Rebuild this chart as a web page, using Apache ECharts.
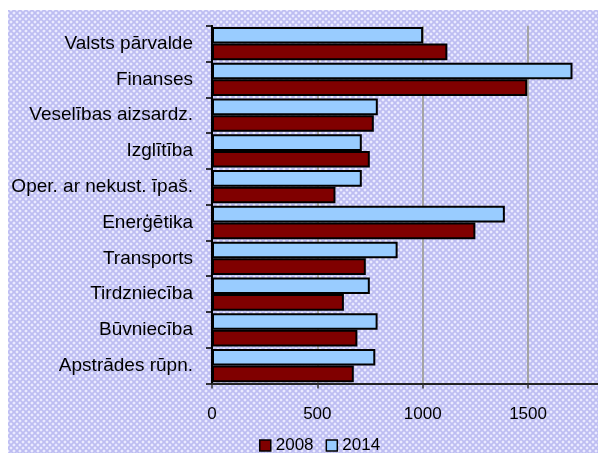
<!DOCTYPE html>
<html>
<head>
<meta charset="utf-8">
<script src="https://cdn.jsdelivr.net/npm/echarts/dist/echarts.min.js"></script>
<style>
  html, body { margin: 0; padding: 0; background: #fff; }
  #mydiv { width: 598px; height: 453px; }
</style>
</head>
<body>
<div id="mydiv"></div>
<script>
// nozares (no apakšas uz augšu, kā Excel joslu diagrammā)
var categories = ['Apstrādes rūpn.', 'Būvniecība', 'Tirdzniecība', 'Transports', 'Enerģētika',
    'Oper. ar nekust. īpaš.', 'Izglītība', 'Veselības aizsardz.', 'Finanses', 'Valsts pārvalde'];
var legendNames = ['2008', '2014'];
var values2008 = [673, 690, 626, 730, 1250, 586, 749, 768, 1496, 1117];
var values2014 = [775, 786, 749, 881, 1390, 711, 711, 787, 1711, 1002];
// ass nogriezta attēla labajā malā
var xMin = 0;
var xMax = 1832;
var xStep = 500;

// fona raksts (gaiši violets rombu raksts)
var pat = document.createElement('canvas');
pat.width = 6;
pat.height = 6;
var ctx = pat.getContext('2d');
ctx.fillStyle = '#ececff';
ctx.fillRect(0, 0, 6, 6);
ctx.strokeStyle = '#bdbdf2';
ctx.lineWidth = 1.8;
ctx.beginPath();
ctx.moveTo(0, 0); ctx.lineTo(6, 6);
ctx.moveTo(6, 0); ctx.lineTo(0, 6);
ctx.stroke();

var echart = echarts.init(document.getElementById('mydiv'));

var labelFont = 'Liberation Sans, Arial, sans-serif';

var option = {
    backgroundColor: '#ffffff',
    animation: false,
    graphic: [{
        type: 'rect',
        left: 8,
        top: 10,
        z: -10,
        shape: { width: 590, height: 443 },
        style: { fill: { image: pat, repeat: 'repeat' } },
        silent: true
    }],
    legend: {
        data: legendNames,
        left: 254,
        top: 432,
        itemWidth: 11,
        itemHeight: 11,
        itemGap: 12,
        icon: 'rect',
        itemStyle: { borderColor: '#000', borderWidth: 1.5 },
        textStyle: { fontSize: 17, color: '#000', fontFamily: labelFont }
    },
    grid: {
        left: 212,
        top: 25.7,
        bottom: 69.5,
        right: 0
    },
    xAxis: {
        type: 'value',
        min: xMin,
        max: xMax,
        interval: xStep,
        axisLine: { show: true, lineStyle: { color: '#222', width: 2 } },
        axisTick: { show: true, length: 5, lineStyle: { color: '#333', width: 1.5 } },
        axisLabel: {
            showMaxLabel: false,
            margin: 22,
            fontSize: 17,
            color: '#000',
            fontFamily: labelFont,
            formatter: function (v) { return String(v); }
        },
        splitLine: { show: true, showMaxLine: false, lineStyle: { color: '#a4a4a4', width: 2 } }
    },
    yAxis: {
        type: 'category',
        data: categories,
        axisLine: { show: true, lineStyle: { color: '#000', width: 2 } },
        axisTick: { show: true, length: 6, lineStyle: { color: '#000', width: 1.5 } },
        axisLabel: {
            margin: 19,
            fontSize: 19,
            color: '#000',
            fontFamily: labelFont
        },
        splitLine: { show: false }
    },
    // 2014 pirmā, lai tā būtu augšējā josla katrā grupā
    series: [{
        name: legendNames[1],
        type: 'bar',
        data: values2014,
        barGap: '0%',
        barCategoryGap: '7%',
        itemStyle: { color: '#99ccff', borderColor: '#000', borderWidth: 2 }
    }, {
        name: legendNames[0],
        type: 'bar',
        data: values2008,
        barGap: '0%',
        barCategoryGap: '7%',
        itemStyle: { color: '#800000', borderColor: '#000', borderWidth: 2 }
    }]
};

echart.setOption(option);
</script>
</body>
</html>
